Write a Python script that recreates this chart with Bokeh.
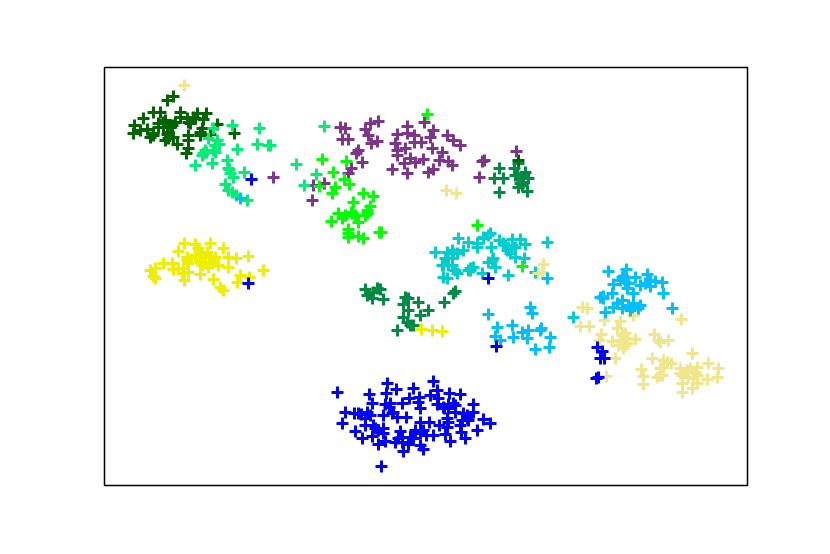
from bokeh.plotting import figure
from bokeh.models import Range1d
from bokeh.embed import file_html
from bokeh.resources import INLINE

seagreen = [(499,168),(514,168),(494,178),(503,178),(525,172),(520,178),(528,178),(518,187),(527,191),(499,192),(522,185),(518,163),(517,175),(522,178),(523,182),(515,175),(520,183),
 (365,289),(367,295),(377,288),(380,289),(372,298),(383,299),(373,292),(405,297),(408,298),(403,304),(418,302),(408,310),(428,310),(420,315),(403,317),(407,322),(410,325),(397,330),(444,302),(455,291),(453,293),(413,325)]
darkgreen = [(167,100),(173,96),(153,112),(160,112),(143,118),(180,112),(197,113),(206,113),(195,118),(203,119),(165,120),(175,122),(187,118),(190,123),(217,124),(134,125),(163,127),(170,127),(133,133),(140,130),(147,129),(202,128),(153,133),(150,137),(167,134),(173,137),(165,140),(177,144),(188,135),(188,148),(186,153),(210,134),(200,135),(234,133),(158,123),(168,132),(518,160),
 (163,122),(168,125),(172,125),(158,127),(180,117),(188,122),(193,117),(168,138),(188,140),(200,132),(153,135)]
purple = [(340,127),(345,128),(342,139),(348,139),(365,129),(370,123),(378,121),(368,135),(371,143),(377,141),(424,122),(407,126),(397,134),(407,133),(414,135),(414,142),(421,142),(433,130),(430,137),(395,143),(397,150),(405,148),(432,148),(442,152),(397,155),(410,158),(404,163),(415,162),(423,159),(439,160),(448,161),(452,165),(447,135),(453,140),(460,145),(358,150),(356,153),(362,162),(351,168),(348,173),(392,169),(407,173),(428,172),(433,169),(484,160),(482,161),(479,177),(516,151),(324,183),(313,185),(312,200),(273,177)]
spring = [(213,128),(232,125),(259,128),(208,138),(217,140),(219,144),(237,149),(257,144),(268,145),(270,145),(206,152),(202,155),(215,152),(195,165),(212,163),(227,160),(229,169),(244,172),(233,177),(225,184),(232,192),(247,200),(296,164),(324,126),(316,174),(304,185),(230,173),(228,190),(236,195),
 (215,145),(213,150),(228,168),(203,153),(205,150)]
lime = [(427,114),(322,159),(346,161),(333,172),(344,179),(349,184),(319,186),(335,187),(332,193),(363,193),(373,196),(353,202),(370,206),(338,213),(351,212),(367,213),(342,218),(365,215),(331,221),(358,222),(348,229),(348,237),(358,236),(363,238),(379,232),(477,225),(355,215),(345,215),(381,232),(522,266),(352,213),(348,233),(367,210)]
yellow = [(184,243),(195,244),(210,243),(178,251),(223,248),(200,252),(207,252),(187,257),(198,257),(210,257),(228,257),(236,258),(248,256),(163,263),(172,263),(188,263),(200,262),(213,260),(218,265),(150,270),(155,268),(173,269),(183,268),(153,276),(155,278),(188,272),(182,273),(200,274),(208,267),(228,267),(263,270),(240,275),(237,282),(249,277),(184,280),(213,279),(220,287),(223,290),(421,329),(432,330),(442,331),
 (198,248),(202,255),(205,263),(212,263),(187,260),(202,265),(195,255),(178,268),(215,257)]
turquoise = [(458,238),(468,242),(483,237),(490,233),(499,240),(512,239),(520,239),(525,244),(477,247),(463,250),(491,247),(435,252),(452,250),(505,245),(445,258),(453,253),(510,253),(515,257),(524,258),(547,242),(442,265),(452,265),(470,268),(492,260),(495,267),(457,273),(482,273),(508,275),(443,277),(447,278),(535,272),(470,270),(488,262),(477,243),(508,247),(573,317),
 (447,252),(448,258),(443,265),(457,253),(448,265),(455,270),(503,243),(507,250),(512,245),(515,247),(488,235),(483,238),(493,258),(468,270),(473,267),(452,258)]
khaki = [(184,85),(446,190),(456,193),(543,264),(538,273),(542,272),(582,307),(587,308),(580,326),(589,326),(604,320),(620,321),(617,328),(633,315),(681,319),(601,334),(625,333),(612,341),(620,340),(635,339),(627,343),(623,348),(654,334),(660,342),(668,340),(615,358),(692,353),(652,358),(663,360),(671,363),(660,368),(641,369),(680,368),(697,367),(708,363),(718,368),(682,375),(662,375),(657,377),(643,376),(643,384),(606,376),(693,378),(707,379),(717,377),(682,392),(692,388),(697,383),(687,370),(599,340),
 (622,335),(627,338),(618,345),(625,345),(663,367),(667,362),(660,375),(680,373),(690,368),(695,372),(697,375),(682,383),(688,377),(658,340)]
skyblue = [(488,314),(497,327),(512,325),(495,336),(500,340),(513,337),(522,332),(528,330),(527,338),(530,307),(532,313),(541,328),(540,330),(535,349),(550,337),(549,347),(547,278),(608,271),(626,269),(623,276),(635,277),(647,274),(613,284),(625,282),(645,283),(650,286),(662,282),(627,288),(663,293),(612,293),(633,293),(600,297),(603,296),(622,300),(613,307),(640,305),(622,308),(633,303),(630,310),(605,312),(672,308),(655,281),(240,198),
 (622,277),(628,283),(620,280),(650,280),(640,285),(632,307),(628,305),(638,308),(617,303),(603,298)]
blue = [(433,381),(337,392),(387,383),(396,389),(369,394),(386,393),(413,388),(409,398),(419,397),(430,395),(437,390),(438,398),(449,393),(460,394),(372,403),(385,404),(402,403),(437,404),(448,404),(455,405),(473,404),(389,407),(420,408),(444,408),(455,412),(345,412),(354,413),(361,414),(367,412),(370,415),(383,415),(393,412),(397,417),(406,417),(463,413),(473,412),(342,423),(365,425),(373,425),(383,428),(420,422),(429,422),(439,425),(448,422),(447,418),(460,425),(467,418),(483,419),(490,423),(477,430),(355,431),(362,438),(372,436),(383,433),(400,431),(415,430),(423,430),(426,435),(433,435),(445,434),(461,432),(465,438),(450,441),(378,444),(385,441),(395,442),(402,442),(413,438),(408,444),(420,445),(403,451),(423,449),(381,466),
 (415,432),(420,433),(410,437),(402,437),(398,438),(447,427),(467,415),(468,420),(462,420),(365,418),(358,413),(375,428),(378,430),(390,403),(392,413),(448,408),(453,403),(443,407),(418,402),
 (251,179),(248,283),(488,278),(496,346),(597,347),(602,351),(604,358),(600,358),(598,377),(596,378)]

series = [(seagreen,"#008B45"),(darkgreen,"#006400"),(purple,"#7D368C"),(spring,"#00EE76"),(lime,"#00FF00"),
          (yellow,"#EEEE00"),(turquoise,"#00CDCD"),(khaki,"#F0E68C"),(skyblue,"#00BFFF"),(blue,"#0000FF")]

p = figure(width=814, height=538, output_backend="svg", toolbar_location=None,
           x_range=Range1d(104,747), y_range=Range1d(485,67),
           min_border_left=104, min_border_right=67, min_border_top=67, min_border_bottom=53)
p.axis.visible = False
p.grid.visible = False
p.outline_line_color = "black"
p.outline_line_width = 1.5
p.outline_line_alpha = 1
for pts, col in series:
    p.scatter([a for a,_ in pts], [b for _,b in pts], marker="cross", size=12,
              line_color=col, line_width=3, fill_color=None)

open("out.html","w").write(file_html(p, INLINE))
